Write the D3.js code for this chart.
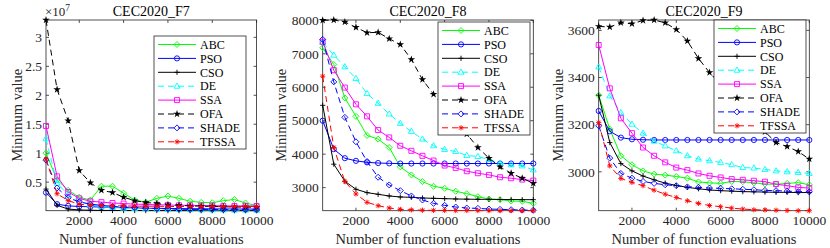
<!DOCTYPE html>
<html>
<head>
<meta charset="utf-8">
<script src="https://cdn.jsdelivr.net/npm/d3@7"></script>
<style>
  html, body { margin: 0; padding: 0; background: #fff; }
  svg { display: block; }
  svg text { font-family: 'Liberation Serif', 'DejaVu Serif', serif; }
</style>
</head>
<body>
<svg id="chart" width="830" height="248"></svg>
<script>
const evals = [500, 1000, 1500, 2000, 2500, 3000, 3500, 4000, 4500, 5000,
  5500, 6000, 6500, 7000, 7500, 8000, 8500, 9000, 9500, 10000];
const xTicks = [2000, 4000, 6000, 8000, 10000];

const algorithms = ["ABC", "PSO", "CSO", "DE", "SSA", "OFA", "SHADE", "TFSSA"];

// CEC2020_F7, values in units of 1e7
const F7 = {
  ABC: [1.00, 0.54, 0.36, 0.24, 0.19, 0.43, 0.43, 0.31, 0.19, 0.155, 0.22, 0.26, 0.22, 0.17, 0.15, 0.145, 0.18, 0.20, 0.14, 0.095],
  PSO: [0.32, 0.12, 0.09, 0.08, 0.075, 0.07, 0.065, 0.06, 0.055, 0.05, 0.048, 0.045, 0.043, 0.04, 0.04, 0.038, 0.037, 0.036, 0.035, 0.035],
  CSO: [0.38, 0.10, 0.035, 0.02, 0.015, 0.012, 0.011, 0.01, 0.01, 0.009, 0.009, 0.008, 0.008, 0.008, 0.008, 0.007, 0.007, 0.007, 0.007, 0.007],
  DE: [1.25, 0.48, 0.28, 0.17, 0.11, 0.08, 0.065, 0.05, 0.045, 0.04, 0.035, 0.03, 0.028, 0.025, 0.022, 0.02, 0.02, 0.018, 0.017, 0.016],
  SSA: [1.47, 0.60, 0.33, 0.22, 0.17, 0.155, 0.14, 0.13, 0.12, 0.115, 0.11, 0.105, 0.10, 0.10, 0.095, 0.095, 0.09, 0.09, 0.09, 0.09],
  OFA: [3.30, 2.10, 1.56, 0.70, 0.49, 0.36, 0.32, 0.24, 0.18, 0.15, 0.13, 0.11, 0.10, 0.09, 0.085, 0.08, 0.075, 0.07, 0.07, 0.065],
  SHADE: [0.88, 0.40, 0.23, 0.16, 0.12, 0.10, 0.08, 0.07, 0.06, 0.05, 0.045, 0.04, 0.035, 0.03, 0.03, 0.028, 0.025, 0.025, 0.022, 0.02],
  TFSSA: [0.90, 0.30, 0.18, 0.12, 0.10, 0.095, 0.09, 0.09, 0.085, 0.085, 0.085, 0.08, 0.08, 0.08, 0.08, 0.08, 0.08, 0.08, 0.08, 0.08]
};

const F8 = {
  ABC: [7180, 6680, 5680, 5130, 4560, 4450, 4200, 3620, 3380, 3180, 3040, 2980, 2890, 2820, 2730, 2660, 2640, 2600, 2590, 2530],
  PSO: [5000, 4150, 3880, 3800, 3755, 3735, 3725, 3720, 3720, 3720, 3720, 3720, 3720, 3720, 3720, 3720, 3720, 3720, 3720, 3720],
  CSO: [5460, 3700, 3190, 2950, 2850, 2800, 2750, 2720, 2710, 2690, 2680, 2670, 2660, 2655, 2650, 2650, 2645, 2645, 2640, 2640],
  DE: [7340, 6960, 6610, 6260, 5810, 5520, 5200, 4920, 4680, 4450, 4250, 4140, 4080, 3960, 3930, 3840, 3730, 3680, 3650, 3530],
  SSA: [7360, 6510, 5990, 5490, 5130, 4720, 4500, 4250, 4100, 3950, 3810, 3660, 3590, 3490, 3430, 3380, 3310, 3280, 3240, 3210],
  OFA: [8000, 8010, 7950, 7790, 7630, 7640, 7450, 7280, 6830, 6230, 5790, 5400, 5000, 4600, 4200, 3880, 3620, 3430, 3280, 3130],
  SHADE: [7430, 6160, 5100, 4370, 3780, 3310, 3080, 2910, 2750, 2630, 2530, 2470, 2420, 2390, 2380, 2360, 2350, 2340, 2330, 2325],
  TFSSA: [6330, 4200, 3180, 2810, 2560, 2460, 2390, 2350, 2335, 2325, 2320, 2318, 2316, 2315, 2314, 2313, 2312, 2311, 2310, 2310]
};

const F9 = {
  ABC: [3325, 3181, 3068, 3030, 3004, 2990, 2986, 2980, 2973, 2957, 2953, 2951, 2959, 2958, 2953, 2948, 2947, 2951, 2954, 2945],
  PSO: [3258, 3172, 3145, 3138, 3136, 3135, 3135, 3135, 3135, 3135, 3135, 3135, 3135, 3135, 3135, 3135, 3135, 3135, 3135, 3135],
  CSO: [3325, 3124, 3035, 3004, 2982, 2966, 2952, 2942, 2934, 2928, 2923, 2920, 2918, 2916, 2915, 2914, 2913, 2913, 2912, 2912],
  DE: [3445, 3322, 3251, 3202, 3164, 3130, 3110, 3089, 3068, 3054, 3047, 3040, 3030, 3018, 3016, 3010, 3004, 3000, 2997, 2993],
  SSA: [3538, 3354, 3227, 3164, 3103, 3068, 3040, 3018, 3007, 2993, 2983, 2976, 2969, 2966, 2962, 2958, 2948, 2941, 2934, 2931],
  OFA: [3617, 3614, 3632, 3628, 3642, 3644, 3632, 3604, 3555, 3481, 3421, 3370, 3320, 3265, 3215, 3170, 3124, 3107, 3086, 3054],
  SHADE: [3195, 3058, 2993, 2973, 2959, 2951, 2945, 2941, 2936, 2934, 2931, 2930, 2928, 2926, 2924, 2921, 2920, 2918, 2916, 2915],
  TFSSA: [3209, 3025, 2972, 2955, 2941, 2922, 2905, 2891, 2877, 2866, 2857, 2852, 2846, 2842, 2839, 2838, 2837, 2836, 2835, 2835]
};

const styles = {
  ABC: { color: "#00ff00", dash: null, marker: "diamond" },
  PSO: { color: "#0000ff", dash: null, marker: "circle" },
  CSO: { color: "#000000", dash: null, marker: "plus" },
  DE: { color: "#00ffff", dash: "6,4", marker: "triangle" },
  SSA: { color: "#ff00ff", dash: null, marker: "square" },
  OFA: { color: "#000000", dash: "6,4", marker: "star" },
  SHADE: { color: "#0000ff", dash: "6,4", marker: "diamond" },
  TFSSA: { color: "#ff0000", dash: "6,4", marker: "asterisk" }
};

const panels = [
  { title: "CEC2020_F7", data: F7, left: 46, yTicks: [0.5, 1, 1.5, 2, 2.5, 3], fmt: d3.format(""), exp: "7", labelX: 22, legend: { x: 154, y: 36 } },
  { title: "CEC2020_F8", data: F8, left: 322.7, yTicks: [3000, 4000, 5000, 6000, 7000, 8000], fmt: d => d, exp: null, labelX: 286, legend: { x: 438, y: 22 } },
  { title: "CEC2020_F9", data: F9, left: 598.7, yTicks: [3000, 3200, 3400, 3600], fmt: d => d, exp: null, labelX: 563, legend: { x: 714, y: 20 } }
];

const plotW = 210.6, plotTop = 20, plotBottom = 210.7;
const axisColor = "#262626";
const serif = "'Liberation Serif', 'DejaVu Serif', serif";
const svg = d3.select("#chart").attr("font-family", serif);

function marker(g, type, color, x, y) {
  const r = 2.6;
  let p;
  switch (type) {
    case "diamond": p = `M${x},${y - 3}L${x + 3},${y}L${x},${y + 3}L${x - 3},${y}Z`; break;
    case "circle":
      g.append("circle").attr("cx", x).attr("cy", y).attr("r", 2.6)
        .attr("fill", "none").attr("stroke", color).attr("stroke-width", 0.9);
      return;
    case "plus": p = `M${x - r},${y}H${x + r}M${x},${y - r}V${y + r}`; break;
    case "triangle": p = `M${x},${y - 3.2}L${x + 3},${y + 2}L${x - 3},${y + 2}Z`; break;
    case "square": p = `M${x - 2.5},${y - 2.5}h5v5h-5Z`; break;
    case "star":
      g.append("path").attr("d", d3.symbol(d3.symbolStar, 18)())
        .attr("transform", `translate(${x},${y})`).attr("fill", color);
      return;
    case "asterisk": {
      const a = 1.9;
      p = `M${x - r},${y}H${x + r}M${x},${y - r}V${y + r}M${x - a},${y - a}L${x + a},${y + a}M${x - a},${y + a}L${x + a},${y - a}`;
      break;
    }
  }
  g.append("path").attr("d", p).attr("fill", "none")
    .attr("stroke", color).attr("stroke-width", 0.9);
}

function label(g, x, y, size, txt) {
  return g.append("text").attr("x", x).attr("y", y).attr("font-family", serif)
    .attr("font-size", size).attr("fill", "#262626").text(txt);
}

panels.forEach(pnl => {
  const g = svg.append("g");
  const allValues = algorithms.flatMap(a => pnl.data[a]);
  const x = d3.scaleLinear().domain([500, 10000]).range([pnl.left, pnl.left + plotW]);
  const y = d3.scaleLinear().domain(d3.extent(allValues)).range([plotBottom, plotTop]);
  const right = pnl.left + plotW;

  // axes box
  g.append("rect").attr("x", pnl.left).attr("y", plotTop).attr("width", plotW).attr("height", plotBottom - plotTop)
    .attr("fill", "#fff").attr("stroke", axisColor).attr("stroke-width", 0.8);

  // ticks (inward, all four sides)
  xTicks.forEach(t => {
    g.append("path").attr("d", `M${x(t)},${plotBottom}v-3M${x(t)},${plotTop}v3`)
      .attr("stroke", axisColor).attr("stroke-width", 0.8);
    label(g, x(t), plotBottom + 14, 13.5, t).attr("text-anchor", "middle");
  });
  pnl.yTicks.forEach(t => {
    g.append("path").attr("d", `M${pnl.left},${y(t)}h3M${right},${y(t)}h-3`)
      .attr("stroke", axisColor).attr("stroke-width", 0.8);
    label(g, pnl.left - 4, y(t), 13.5, pnl.fmt(t)).attr("dy", "0.35em").attr("text-anchor", "end");
  });

  if (pnl.exp) {
    const t = label(g, pnl.left - 1, 16, 13, "");
    t.append("tspan").text("×10");
    t.append("tspan").attr("font-size", 9.5).attr("dy", -5).text(pnl.exp);
  }

  label(g, pnl.left + plotW / 2, 16, 14, pnl.title).attr("text-anchor", "middle").attr("fill", "#000");
  label(g, pnl.left + plotW / 2, 244, 14.5, "Number of function evaluations").attr("text-anchor", "middle");
  label(g, 0, 0, 14.5, "Minimum value").attr("text-anchor", "middle")
    .attr("transform", `translate(${pnl.labelX},${(plotTop + plotBottom) / 2}) rotate(-90)`);

  // series
  const line = d3.line().x((d, i) => x(evals[i])).y(d => y(d));
  algorithms.forEach(a => {
    const s = styles[a];
    g.append("path").attr("d", line(pnl.data[a])).attr("fill", "none")
      .attr("stroke", s.color).attr("stroke-width", 1)
      .attr("stroke-dasharray", s.dash);
    pnl.data[a].forEach((v, i) => marker(g, s.marker, s.color, x(evals[i]), y(v)));
  });

  // legend
  const lg = pnl.legend, lw = 92, lh = 113, rowH = 13.9;
  g.append("rect").attr("x", lg.x).attr("y", lg.y).attr("width", lw).attr("height", lh)
    .attr("fill", "#fff").attr("stroke", axisColor).attr("stroke-width", 0.8);
  algorithms.forEach((a, i) => {
    const s = styles[a];
    const cy = lg.y + 8.5 + i * rowH;
    g.append("path").attr("d", `M${lg.x + 4},${cy}h38`).attr("stroke", s.color)
      .attr("stroke-width", 1).attr("stroke-dasharray", s.dash);
    marker(g, s.marker, s.color, lg.x + 23, cy);
    label(g, lg.x + 46, cy, 12, a).attr("dy", "0.35em").attr("fill", "#000");
  });
});
</script>
</body>
</html>
